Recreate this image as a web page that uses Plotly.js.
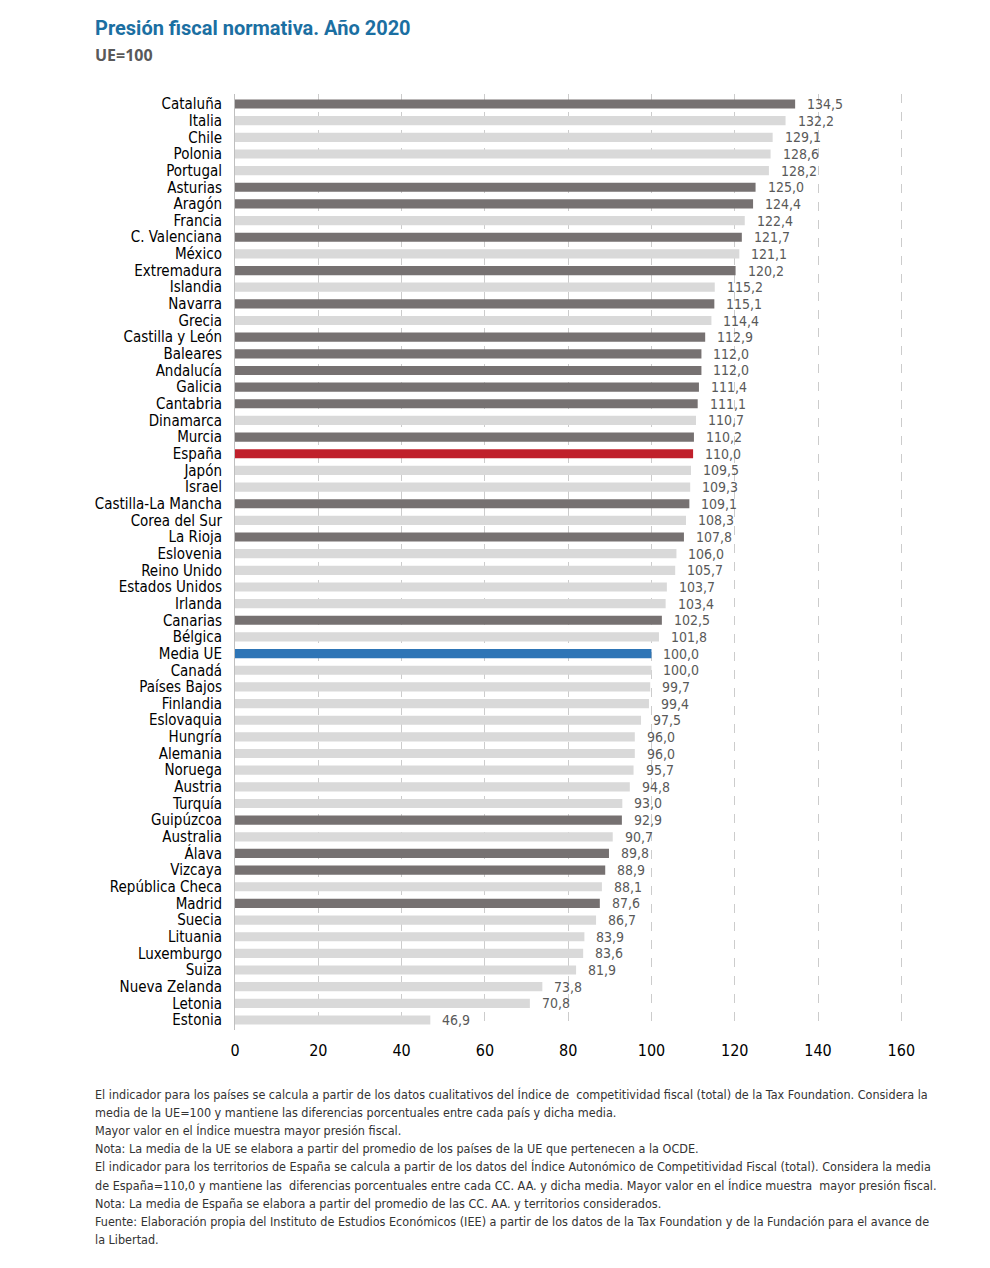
<!DOCTYPE html>
<html>
<head>
<meta charset="utf-8">
<script src="https://cdn.plot.ly/plotly-3.0.1.min.js"></script>
<style>
html,body{margin:0;padding:0;background:#fff;}
#chart{width:990px;height:1268px;}
</style>
</head>
<body>
<div id="chart"></div>
<script>
const categories = ["Cataluña","Italia","Chile","Polonia","Portugal","Asturias","Aragón","Francia","C. Valenciana","México","Extremadura","Islandia","Navarra","Grecia","Castilla y León","Baleares","Andalucía","Galicia","Cantabria","Dinamarca","Murcia","España","Japón","Israel","Castilla-La Mancha","Corea del Sur","La Rioja","Eslovenia","Reino Unido","Estados Unidos","Irlanda","Canarias","Bélgica","Media UE","Canadá","Países Bajos","Finlandia","Eslovaquia","Hungría","Alemania","Noruega","Austria","Turquía","Guipúzcoa","Australia","Álava","Vizcaya","República Checa","Madrid","Suecia","Lituania","Luxemburgo","Suiza","Nueva Zelanda","Letonia","Estonia"];
const values = [134.5,132.2,129.1,128.6,128.2,125.0,124.4,122.4,121.7,121.1,120.2,115.2,115.1,114.4,112.9,112.0,112.0,111.4,111.1,110.7,110.2,110.0,109.5,109.3,109.1,108.3,107.8,106.0,105.7,103.7,103.4,102.5,101.8,100.0,100.0,99.7,99.4,97.5,96.0,96.0,95.7,94.8,93.0,92.9,90.7,89.8,88.9,88.1,87.6,86.7,83.9,83.6,81.9,73.8,70.8,46.9];
const spanishRegions = ["Cataluña","Asturias","Aragón","C. Valenciana","Extremadura","Navarra","Castilla y León","Baleares","Andalucía","Galicia","Cantabria","Murcia","Castilla-La Mancha","La Rioja","Canarias","Guipúzcoa","Álava","Vizcaya","Madrid"];
const xTicks = [0,20,40,60,80,100,120,140,160];

const COL_REGION = "#767171", COL_COUNTRY = "#d9d9d9", COL_SPAIN = "#c0202b", COL_EU = "#2e75b6";
const colors = categories.map(c => c === "España" ? COL_SPAIN : c === "Media UE" ? COL_EU : spanishRegions.includes(c) ? COL_REGION : COL_COUNTRY);
const fmt = v => v.toFixed(1).replace(".", ",");

const FONT = "'DejaVu Sans Condensed','Liberation Sans Narrow',Roboto,sans-serif";

const trace = {
  type: "bar", orientation: "h",
  y: categories, x: values,
  marker: {color: colors},
  width: 0.55,
  hoverinfo: "none"
};

const annotations = categories.map((c,i) => ({
  x: values[i], y: c, xref: "x", yref: "y",
  text: fmt(values[i]), showarrow: false,
  xanchor: "left", yanchor: "middle", xshift: 10,
  font: {family: FONT, size: 14, color: "#595959"}
}));

annotations.push({
  xref: "paper", yref: "paper", x: -0.212, y: 1.0, yshift: 66,
  xanchor: "left", yanchor: "middle", showarrow: false,
  text: "<b>Presión fiscal normativa. Año 2020</b>",
  font: {family: "Roboto,'Open Sans',sans-serif", size: 20, color: "#1b6fa2"}
});
annotations.push({
  xref: "paper", yref: "paper", x: -0.212, y: 1.0, yshift: 39,
  xanchor: "left", yanchor: "middle", showarrow: false,
  text: "<b>UE=100</b>",
  font: {family: "'Open Sans',Roboto,sans-serif", size: 16, color: "#595959"}
});

const notes = [
  "El indicador para los países se calcula a partir de los datos cualitativos del Índice de  competitividad fiscal (total) de la Tax Foundation. Considera la",
  "media de la UE=100 y mantiene las diferencias porcentuales entre cada país y dicha media.",
  "Mayor valor en el Índice muestra mayor presión fiscal.",
  "Nota: La media de la UE se elabora a partir del promedio de los países de la UE que pertenecen a la OCDE.",
  "El indicador para los territorios de España se calcula a partir de los datos del Índice Autonómico de Competitividad Fiscal (total). Considera la media",
  "de España=110,0 y mantiene las  diferencias porcentuales entre cada CC. AA. y dicha media. Mayor valor en el Índice muestra  mayor presión fiscal.",
  "Nota: La media de España se elabora a partir del promedio de las CC. AA. y territorios considerados.",
  "Fuente: Elaboración propia del Instituto de Estudios Económicos (IEE) a partir de los datos de la Tax Foundation y de la Fundación para el avance de",
  "la Libertad."
];
notes.forEach((t,i) => annotations.push({
  xref: "paper", yref: "paper", x: -0.212, y: 0, yshift: -(64 + i*18.2),
  xanchor: "left", yanchor: "middle", showarrow: false,
  text: t, font: {family: FONT, size: 12.5, color: "#333333"}
}));

const layout = {
  width: 990, height: 1268,
  margin: {l: 235, r: 87, t: 94, b: 238},
  paper_bgcolor: "#ffffff", plot_bgcolor: "#ffffff",
  showlegend: false,
  bargap: 0.45,
  xaxis: {
    range: [0, 160.4], tickmode: "array", tickvals: xTicks, ticktext: xTicks.map(String),
    showgrid: true, gridcolor: "#cccccc", griddash: "dash", gridwidth: 1,
    zeroline: false, showline: false, automargin: false,
    ticks: "outside", ticklen: 6, tickcolor: "rgba(0,0,0,0)",
    tickfont: {family: FONT, size: 16, color: "#000"},
    fixedrange: true
  },
  yaxis: {
    autorange: "reversed", type: "category",
    tickmode: "array", tickvals: categories, ticktext: categories,
    showgrid: false, zeroline: false, automargin: false,
    showline: true, linecolor: "#bfbfbf", linewidth: 1,
    ticks: "outside", ticklen: 9, tickcolor: "rgba(0,0,0,0)",
    tickfont: {family: FONT, size: 15, color: "#000"},
    fixedrange: true
  },
  annotations: annotations
};

Plotly.newPlot("chart", [trace], layout, {staticPlot: true, displayModeBar: false});
</script>
</body>
</html>
